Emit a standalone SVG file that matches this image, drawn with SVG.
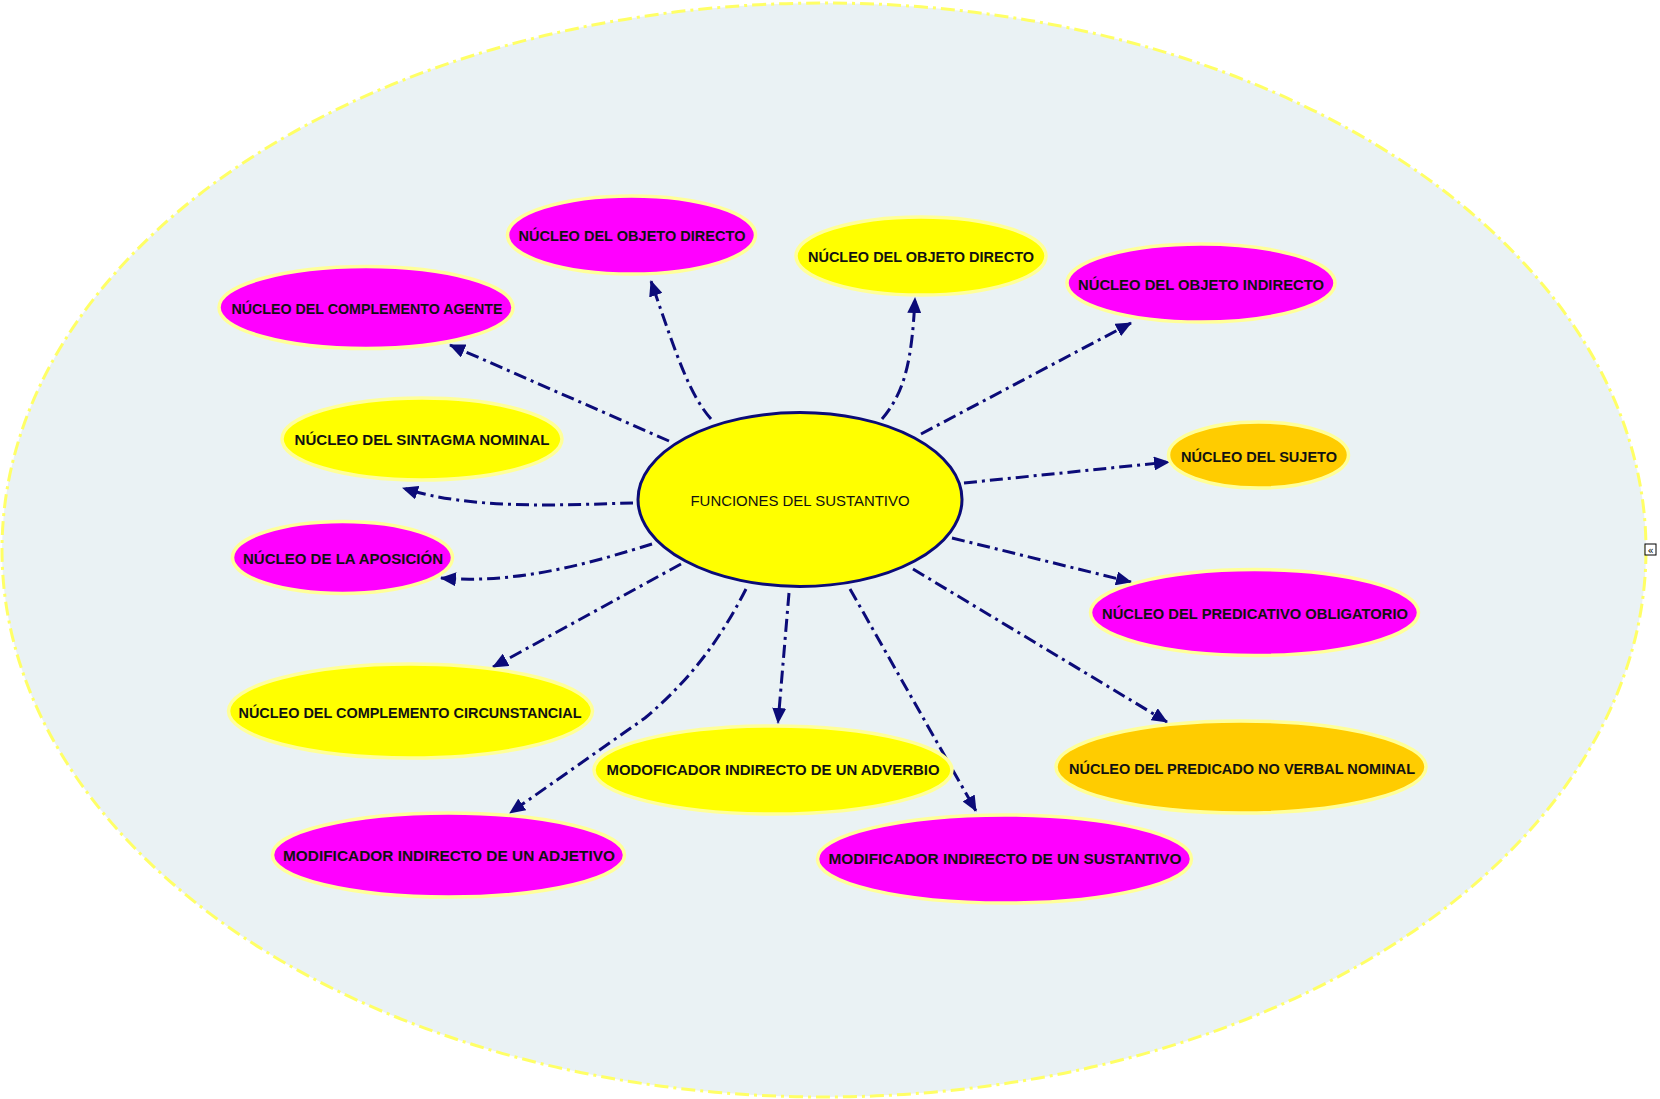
<svg xmlns="http://www.w3.org/2000/svg" width="1660" height="1099" viewBox="0 0 1660 1099">
<defs>
<marker id="arr" markerUnits="userSpaceOnUse" markerWidth="16" markerHeight="14" viewBox="0 0 16 14" refX="15" refY="7" orient="auto">
<path d="M0,0 L16,7 L0,14 Z" fill="#0B0B78"/>
</marker>
</defs>
<style>
.bg{fill:#EAF2F4;stroke:#FFFF66;stroke-width:3;stroke-dasharray:14 5 3 5}
.node{stroke:#FFFF99;stroke-width:3.5}
.mag{fill:#FF00FF}
.yel{fill:#FFFF00}
.ora{fill:#FFCC00}
.lbl{font-family:"Comic Sans MS","Liberation Sans","DejaVu Sans",sans-serif;font-size:14px;font-weight:bold;fill:#111;text-anchor:middle;dominant-baseline:central}
.conn path{fill:none;stroke:#0B0B78;stroke-width:3;stroke-dasharray:13 5 3 5;marker-end:url(#arr)}
</style>
<ellipse class="bg" cx="824" cy="550" rx="822" ry="547"/>
<g id="connectors" class="conn">
<path d="M669,441 L450,345"/>
<path d="M711,419 C690,395 678,360 651,281"/>
<path d="M882,419 C905,392 912,360 915,298"/>
<path d="M921,434 L1131,323"/>
<path d="M964,483 L1169,462"/>
<path d="M952,538 L1131,582"/>
<path d="M913,569 L1167,722"/>
<path d="M850,589 L976,811"/>
<path d="M789,593 L778,723"/>
<path d="M746,589 C720,640 690,680 645,718 L510,813"/>
<path d="M681,564 L493,667"/>
<path d="M652,544 C600,560 520,585 441,578"/>
<path d="M633,503 C560,505 470,510 403,488"/>
</g>
<g id="center">
<ellipse cx="800" cy="499.5" rx="162" ry="87" fill="#FFFF00" stroke="#0B0B78" stroke-width="3"/>
<text class="lbl" x="800" y="500" style="font-weight:normal;font-size:15px" textLength="219" lengthAdjust="spacingAndGlyphs">FUNCIONES DEL SUSTANTIVO</text>
</g>
<g id="n_od1"><ellipse class="node mag" cx="631.5" cy="235" rx="124" ry="39"/><text class="lbl" x="632" y="236" textLength="227" lengthAdjust="spacingAndGlyphs">NÚCLEO DEL OBJETO DIRECTO</text></g>
<g id="n_agente"><ellipse class="node mag" cx="366" cy="307.5" rx="147" ry="41"/><text class="lbl" x="367" y="309" textLength="271" lengthAdjust="spacingAndGlyphs">NÚCLEO DEL COMPLEMENTO AGENTE</text></g>
<g id="n_od2"><ellipse class="node yel" cx="921" cy="256" rx="125" ry="39"/><text class="lbl" x="921" y="257" textLength="226" lengthAdjust="spacingAndGlyphs">NÚCLEO DEL OBJETO DIRECTO</text></g>
<g id="n_oi"><ellipse class="node mag" cx="1201" cy="283" rx="134" ry="39"/><text class="lbl" x="1201" y="285" textLength="246" lengthAdjust="spacingAndGlyphs">NÚCLEO DEL OBJETO INDIRECTO</text></g>
<g id="n_sujeto"><ellipse class="node ora" cx="1258.5" cy="455" rx="90" ry="33"/><text class="lbl" x="1259" y="457" textLength="156" lengthAdjust="spacingAndGlyphs">NÚCLEO DEL SUJETO</text></g>
<g id="n_predicativo"><ellipse class="node mag" cx="1254.5" cy="612.5" rx="164" ry="43"/><text class="lbl" x="1255" y="614" textLength="306" lengthAdjust="spacingAndGlyphs">NÚCLEO DEL PREDICATIVO OBLIGATORIO</text></g>
<g id="n_sintagma"><ellipse class="node yel" cx="422" cy="439" rx="140" ry="41"/><text class="lbl" x="422" y="440" textLength="255" lengthAdjust="spacingAndGlyphs">NÚCLEO DEL SINTAGMA NOMINAL</text></g>
<g id="n_aposicion"><ellipse class="node mag" cx="342.5" cy="557.5" rx="110" ry="36"/><text class="lbl" x="343" y="559" textLength="200" lengthAdjust="spacingAndGlyphs">NÚCLEO DE LA APOSICIÓN</text></g>
<g id="n_circ"><ellipse class="node yel" cx="410.5" cy="711" rx="182" ry="47"/><text class="lbl" x="410" y="713" textLength="343" lengthAdjust="spacingAndGlyphs">NÚCLEO DEL COMPLEMENTO CIRCUNSTANCIAL</text></g>
<g id="n_adjetivo"><ellipse class="node mag" cx="448.5" cy="855" rx="176" ry="42"/><text class="lbl" x="449" y="856" textLength="332" lengthAdjust="spacingAndGlyphs">MODIFICADOR INDIRECTO DE UN ADJETIVO</text></g>
<g id="n_adverbio"><ellipse class="node yel" cx="773" cy="770" rx="179" ry="44"/><text class="lbl" x="773" y="770" textLength="333" lengthAdjust="spacingAndGlyphs">MODOFICADOR INDIRECTO DE UN ADVERBIO</text></g>
<g id="n_sustantivo"><ellipse class="node mag" cx="1004.5" cy="859" rx="187" ry="44"/><text class="lbl" x="1005" y="859" textLength="353" lengthAdjust="spacingAndGlyphs">MODIFICADOR INDIRECTO DE UN SUSTANTIVO</text></g>
<g id="n_predicado"><ellipse class="node ora" cx="1241" cy="767" rx="185" ry="46"/><text class="lbl" x="1242" y="769" textLength="346" lengthAdjust="spacingAndGlyphs">NÚCLEO DEL PREDICADO NO VERBAL NOMINAL</text></g>
<g id="collapse"><rect x="1645" y="544" width="11" height="11" fill="#FFFFFF" stroke="#000" stroke-width="1"/><text x="1650.5" y="550" font-family="DejaVu Sans, sans-serif" font-size="10" text-anchor="middle" dominant-baseline="central" fill="#000">«</text></g>
</svg>
